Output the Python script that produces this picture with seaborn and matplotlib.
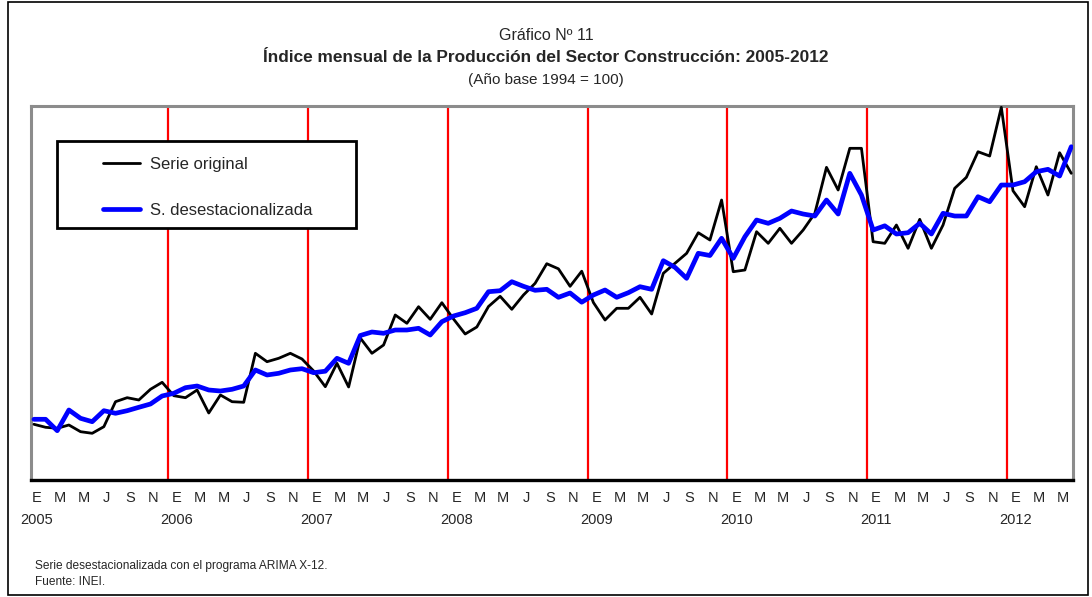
import numpy as np
import pandas as pd
import seaborn as sns
import matplotlib.pyplot as plt
from matplotlib.patches import Rectangle
from matplotlib.transforms import ScaledTranslation

# monthly index, ene-2005 .. jun-2012
serie_original = [155.7, 152.7, 151.7, 155.0, 148.3, 146.7, 153.3, 178.3, 182.3, 180.0, 190.7, 197.7,
                  184.3, 182.3, 190.0, 167.0, 185.0, 178.3, 177.7, 226.7, 218.3, 221.7, 226.7, 221.0,
                  209.0, 193.3, 216.7, 193.0, 242.0, 226.7, 235.0, 265.0, 256.7, 273.3, 260.7, 277.3,
                  261.0, 246.0, 253.0, 273.5, 283.7, 270.7, 285.0, 296.7, 316.3, 311.2, 293.7, 308.8,
                  277.5, 260.0, 271.7, 271.7, 282.7, 266.0, 306.7, 316.7, 326.7, 347.3, 340.0, 380.0,
                  308.3, 310.0, 348.3, 336.7, 351.7, 336.7, 350.0, 366.7, 412.7, 390.0, 431.7, 431.7,
                  338.3, 336.7, 355.0, 331.7, 360.7, 331.7, 355.0, 391.7, 402.7, 428.3, 424.0, 472.7,
                  389.3, 373.3, 413.3, 385.0, 427.3, 406.7]
serie_desest = [160.7, 160.7, 149.3, 170.0, 161.7, 158.3, 169.3, 166.7, 169.3, 172.7, 176.0, 184.0,
                186.7, 192.3, 194.0, 190.0, 189.0, 190.7, 194.0, 210.0, 205.0, 206.7, 210.0, 211.3,
                207.3, 208.8, 221.7, 216.7, 244.5, 248.0, 246.7, 250.0, 250.0, 251.7, 245.0, 258.3,
                264.0, 267.3, 271.7, 288.3, 289.3, 298.3, 293.7, 289.7, 290.7, 282.7, 287.0, 277.8,
                285.0, 290.0, 282.7, 287.3, 293.3, 290.7, 319.3, 312.7, 301.7, 326.7, 324.5, 341.7,
                321.7, 343.3, 360.0, 356.7, 361.7, 369.0, 366.0, 364.0, 380.0, 366.0, 406.7, 385.0,
                350.0, 354.2, 346.0, 347.3, 356.7, 346.0, 366.7, 364.0, 364.0, 383.3, 378.3, 395.0,
                395.0, 398.3, 408.3, 410.7, 404.0, 433.3]
meses = ["E", "M", "M", "J", "S", "N"]
anios = ["2005", "2006", "2007", "2008", "2009", "2010", "2011", "2012"]

n = len(serie_original)
df = pd.DataFrame({"mes": np.arange(n), "orig": serie_original, "desest": serie_desest})

sns.set_style("white")
plt.rcParams['font.family'] = ['Liberation Sans', 'DejaVu Sans']

fig = plt.figure(figsize=(10.92, 5.97), dpi=100)
ax = fig.add_axes([0.0284, 0.196, 0.9542, 0.6264])

# year separators
for k in range(1, len(anios)):
    ax.axvline(12 * k - 0.5, color="#ff0000", lw=1.6, zorder=1)
ax.axvline(-0.15, color="#ff0000", lw=1.4, zorder=1)

sns.lineplot(data=df, x="mes", y="orig", color="black", lw=2.0, ax=ax,
             label="Serie original", zorder=3)
sns.lineplot(data=df, x="mes", y="desest", color="#0000ff", lw=3.4, ax=ax,
             label="S. desestacionalizada", zorder=4)

ax.set_xlim(-0.25, n - 0.85)
ax.set_ylim(100, 474)
ax.set_yticks([])
ax.set_xlabel("")
ax.set_ylabel("")

ticks = list(range(0, n, 2))
labels = []
for t in ticks:
    m = meses[(t % 12) // 2]
    labels.append(m + "\n" + anios[t // 12] if t % 12 == 0 else m + "\n ")
ax.set_xticks(ticks)
ax.set_xticklabels(labels, fontsize=10.5, linespacing=1.75)
ax.tick_params(axis="x", length=0, pad=8)
for lab in ax.get_xticklabels():
    lab.set_transform(lab.get_transform() + ScaledTranslation(3 / 100, 0, fig.dpi_scale_trans))

for s in ["top", "left", "right"]:
    ax.spines[s].set_color("#8c8c8c")
    ax.spines[s].set_linewidth(2.2)
ax.spines["bottom"].set_color("black")
ax.spines["bottom"].set_linewidth(2.4)

# legend box drawn by hand, entries placed inside it
ax.add_patch(Rectangle((0.025, 0.674), 0.287, 0.232, transform=ax.transAxes, fill=True,
                       facecolor="white", edgecolor="black", lw=2.0, zorder=5))
leg = ax.legend(loc="upper left", bbox_to_anchor=(0.069, 0.864), frameon=False,
                fontsize=12, borderpad=0, labelspacing=1.85, handlelength=2.2,
                handletextpad=0.6, borderaxespad=0)
leg.set_zorder(6)

fig.text(0.5, 1 - 35 / 597, "Gráfico Nº 11", ha="center", va="center", fontsize=11.5)
fig.text(0.5, 1 - 58 / 597, "Índice mensual de la Producción del Sector Construcción: 2005-2012",
         ha="center", va="center", fontsize=12.4, fontweight="bold")
fig.text(0.5, 1 - 80 / 597, "(Año base 1994 = 100)", ha="center", va="center", fontsize=11)

fig.text(35 / 1092, 1 - 566 / 597, "Serie desestacionalizada con el programa ARIMA X-12.",
         ha="left", va="center", fontsize=8.6)
fig.text(35 / 1092, 1 - 582 / 597, "Fuente: INEI.", ha="left", va="center", fontsize=8.6)

fig.patches.append(Rectangle((8 / 1092, 2 / 597), 1080 / 1092, 593 / 597, transform=fig.transFigure,
                             fill=False, edgecolor="black", lw=1.2))

fig.savefig("out.png", dpi=100)
